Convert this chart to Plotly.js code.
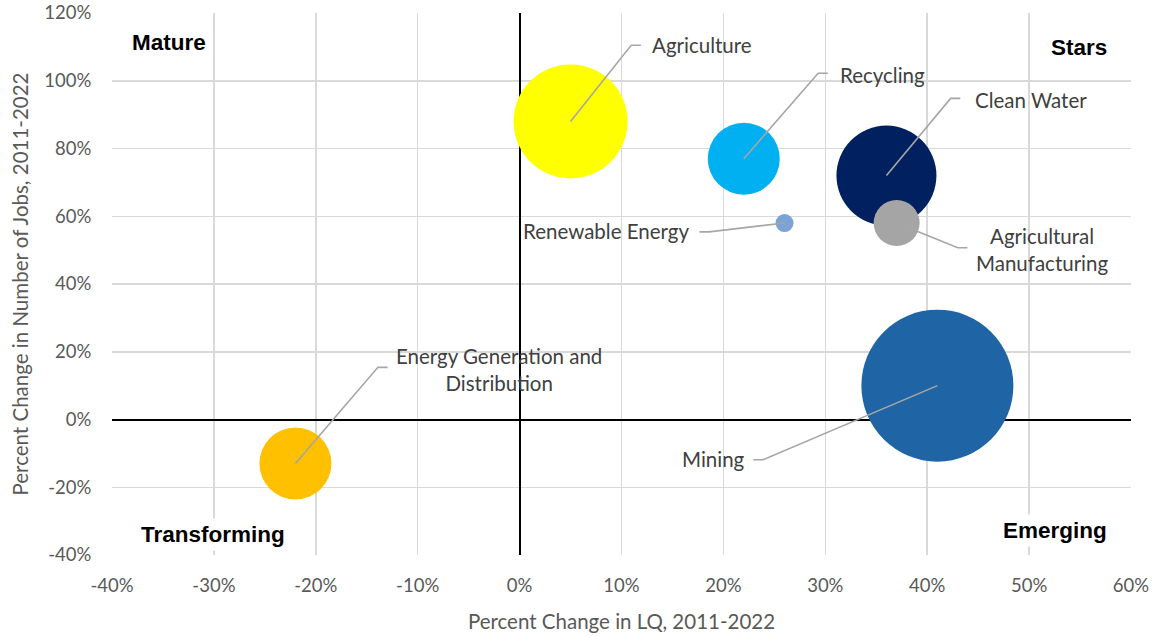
<!DOCTYPE html>
<html><head><meta charset="utf-8">
<script src="https://cdn.plot.ly/plotly-3.0.1.min.js"></script>
<style>html,body{margin:0;padding:0;background:#fff}#chart{width:1157px;height:636px}</style>
</head><body><div id="chart"></div>
<script>
// Data
const industries = ["Energy Generation and Distribution","Agriculture","Recycling","Clean Water","Agricultural Manufacturing","Renewable Energy","Mining"];
const lqChange   = [-22, 5, 22, 36, 37, 26, 41];      // % change in LQ, 2011-2022
const jobsChange = [-13, 88, 77, 72, 58, 58, 10];     // % change in number of jobs, 2011-2022
const bubbleSize = [1296, 3249, 1296, 2500, 529, 81, 5776]; // relative size
const colors = ["#FFC000","#FFFF00","#00B0F0","#002060","#A5A5A5","#7BA3D4","#1F64A5"];

// Tick labels
const xTickVals = [-40,-30,-20,-10,0,10,20,30,40,50,60];
const xTickText = ["-40%","-30%","-20%","-10%","0%","10%","20%","30%","40%","50%","60%"];
const yTickVals = [-40,-20,0,20,40,60,80,100,120];
const yTickText = ["-40%","-20%","0%","20%","40%","60%","80%","100%","120%"];

// Label layout (elbow of leader line, text anchor)
const labelCfg = [
  {text:"Energy Generation and<br>Distribution", ex:-13.9, ey:15.4, tx:-2.0, ty:14.8, align:"center", dir:1},
  {text:"Agriculture", ex:10.95, ey:110.5, tx:12.8, ty:110.5, align:"left", dir:1},
  {text:"Recycling", ex:29.3, ey:102.2, tx:31.2, ty:101.8, align:"left", dir:1},
  {text:"Clean Water", ex:42.3, ey:94.8, tx:44.5, ty:94.4, align:"left", dir:1},
  {text:"Agricultural<br>Manufacturing", ex:43.0, ey:50.7, tx:51.3, ty:50.1, align:"center", dir:1},
  {text:"Renewable Energy", ex:18.6, ey:55.4, tx:16.8, ty:55.6, align:"right", dir:-1},
  {text:"Mining", ex:23.9, ey:-11.9, tx:22.3, ty:-11.6, align:"right", dir:-1}
];

const traces = [{
  type:"scatter", mode:"markers", x:lqChange, y:jobsChange, text:industries,
  marker:{size:bubbleSize, sizemode:"area", sizeref:0.5, color:colors, opacity:1, line:{width:0}},
  hoverinfo:"text", showlegend:false
}];
labelCfg.forEach((c,i)=>{
  traces.push({type:"scatter", mode:"lines", hoverinfo:"skip", showlegend:false,
    x:[lqChange[i], c.ex, c.ex + c.dir*0.95], y:[jobsChange[i], c.ey, c.ey],
    line:{color:"#A6A6A6", width:1.6}});
});

const FONT = "Lato, 'Open Sans', sans-serif";
const annFont = {family:FONT, size:20.5, color:"#404040"};
const annotations = labelCfg.map(c=>({
  x:c.tx, y:c.ty, xref:"x", yref:"y", text:c.text, showarrow:false,
  xanchor:c.align==="left"?"left":(c.align==="right"?"right":"center"), yanchor:"middle",
  align:"center", font:annFont
}));
const qFont = {family:"'Liberation Sans', Arial, sans-serif", size:22.5, color:"#000000"};
[
  {text:"<b>Mature</b>", x:-38.4, y:111.4, xanchor:"left"},
  {text:"<b>Stars</b>", x:58.0, y:109.9, xanchor:"right"},
  {text:"<b>Transforming</b>", x:-37.5, y:-33.8, xanchor:"left"},
  {text:"<b>Emerging</b>", x:58.0, y:-32.9, xanchor:"right"}
].forEach(q=>annotations.push({x:q.x, y:q.y, xref:"x", yref:"y", text:q.text, showarrow:false,
  xanchor:q.xanchor, yanchor:"middle", font:qFont, bgcolor:"#ffffff", borderpad:3}));

const tickFont = {family:FONT, size:18.5, color:"#595959"};
const titleFont = {family:FONT, size:20.5, color:"#595959"};
const layout = {
  width:1157, height:636,
  margin:{l:112, r:26, t:13, b:81},
  paper_bgcolor:"#ffffff", plot_bgcolor:"#ffffff",
  xaxis:{range:[-40,60], tickmode:"array", tickvals:xTickVals, ticktext:xTickText,
    showgrid:true, gridcolor:"#D9D9D9", gridwidth:1.5,
    zeroline:true, zerolinecolor:"#000000", zerolinewidth:2, showline:false,
    ticks:"outside", ticklen:14, tickcolor:"rgba(0,0,0,0)", tickfont:tickFont,
    title:{text:"Percent Change in LQ, 2011-2022", font:titleFont, standoff:19},
    automargin:false, fixedrange:true},
  yaxis:{range:[-40,120], tickmode:"array", tickvals:yTickVals, ticktext:yTickText,
    showgrid:true, gridcolor:"#D9D9D9", gridwidth:1.5,
    zeroline:true, zerolinecolor:"#000000", zerolinewidth:2, showline:false,
    ticks:"outside", ticklen:16, tickcolor:"rgba(0,0,0,0)", tickfont:tickFont,
    title:{text:"Percent Change in Number of Jobs, 2011-2022", font:titleFont, standoff:10},
    automargin:false, fixedrange:true},
  annotations:annotations,
  showlegend:false
};
Plotly.newPlot("chart", traces, layout, {displayModeBar:false, staticPlot:true});
</script></body></html>
